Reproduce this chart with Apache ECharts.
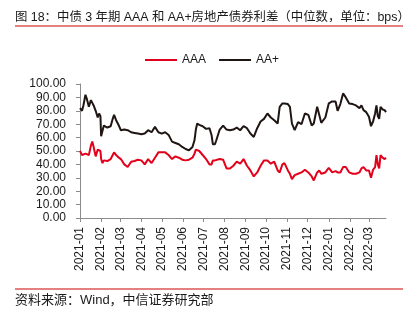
<!DOCTYPE html>
<html>
<head>
<meta charset="utf-8">
<script src="https://cdn.jsdelivr.net/npm/echarts@6/dist/echarts.min.js"></script>
<style>
html,body{margin:0;padding:0;background:#fff;}
#c{width:417px;height:324px;}
</style>
</head>
<body>
<div id="c"></div>
<script>
var titleText = '图 18：中债 3 年期 AAA 和 AA+房地产债券利差（中位数，单位：bps）';
var sourceText = '资料来源：Wind，中信证券研究部';
var seriesNames = ['AAA', 'AA+'];

var dates = [
'2021-01-01','2021-01-04','2021-01-06','2021-01-09','2021-01-11','2021-01-14','2021-01-17','2021-01-19','2021-01-21','2021-01-24',
'2021-01-27','2021-01-29','2021-01-31','2021-02-01','2021-02-03','2021-02-05','2021-02-10','2021-02-15','2021-02-18','2021-02-20',
'2021-02-23','2021-02-27','2021-03-02','2021-03-07','2021-03-12','2021-03-17','2021-03-22','2021-03-27','2021-04-01','2021-04-06',
'2021-04-11','2021-04-16','2021-04-21','2021-04-26','2021-05-01','2021-05-06','2021-05-11','2021-05-16','2021-05-21','2021-05-26',
'2021-05-31','2021-06-05','2021-06-10','2021-06-15','2021-06-18','2021-06-20','2021-06-22','2021-06-25','2021-06-30','2021-07-05',
'2021-07-10','2021-07-13','2021-07-15','2021-07-18','2021-07-20','2021-07-25','2021-07-30','2021-08-04','2021-08-09','2021-08-14',
'2021-08-19','2021-08-24','2021-08-29','2021-09-03','2021-09-08','2021-09-13','2021-09-18','2021-09-23','2021-09-28','2021-10-03',
'2021-10-08','2021-10-13','2021-10-18','2021-10-21','2021-10-25','2021-10-28','2021-11-02','2021-11-05','2021-11-08','2021-11-12',
'2021-11-17','2021-11-22','2021-11-27','2021-12-02','2021-12-07','2021-12-10','2021-12-15','2021-12-18','2021-12-21','2021-12-27',
'2022-01-01','2022-01-06','2022-01-11','2022-01-14','2022-01-18','2022-01-22','2022-01-26','2022-01-31','2022-02-05','2022-02-10',
'2022-02-15','2022-02-18','2022-02-21','2022-02-25','2022-03-01','2022-03-04','2022-03-07','2022-03-10','2022-03-12','2022-03-14',
'2022-03-16','2022-03-18','2022-03-21','2022-03-24','2022-03-26'
];

var aaa = [
50,47,46,48,49,47,54,57,53,46,
51,52,50,44,41,43,42.5,44,47,49,
47,45,44,40,38,42,42.5,43.5,43,40,
44,41,45,49,49,49,47,44,46,45,
43.5,43,43.5,45,48,51,52,50,47,44,
40,40,43,43,42.5,44,43.5,37,37,39,
42,40.5,44,39,35.5,31,34,39,43,43,
40.5,42,35.5,34,40,41,35.5,33,29,32,
33,34,36,34,31,28,34,35.5,33,34,
37.5,34,35,34,34,38,38,34,33,33,
34,37,38,35.5,35.5,30,36,38,47,40,
37,47,45,44,45
];

var aaPlus = [
82,80,84,92,89,83,88,87,84,80,
75,78,76,61,62,69,67.5,68.5,74,77,
73,69,65.5,66,65.5,64,63.5,63,62.5,63,
65.5,64,68,64,63,64,62,57,56,55,
53,51.5,50.5,53,58,66,70.5,69.5,68.5,66.5,
67,62,55,55,58,66,69,66,65.5,66,
67.5,65.5,68.5,67,63,60.5,67,72,74,78,
75,73,70.5,83,85.5,85.5,85,83,70.5,65.5,
71.5,70,78,77,69,70.5,83,77,71,75,
85.5,87,87,80,85,93,90,85.5,85,84,
82,84,80.5,79,75.5,68.5,72,78,84,76,
74,83,81,80.5,79
];

var yTicks = [0, 100, 10];

function pairs(vals) {
  return dates.map(function (d, i) { return [d, vals[i]]; });
}

var chart = echarts.init(document.getElementById('c'), null, {renderer: 'canvas'});
var font = 'Arial, "Liberation Sans", "Noto Sans CJK SC", sans-serif';
var DAY = 86400000;

chart.setOption({
  animation: false,
  textStyle: {fontFamily: font},
  graphic: [
    {type: 'text', left: 15, top: 11, style: {text: titleText, font: '12.4px ' + font, fill: '#1a1a1a'}},
    {type: 'rect', shape: {x: 15, y: 25, width: 388, height: 2}, style: {fill: '#E58080'}},
    {type: 'rect', shape: {x: 15, y: 288, width: 388, height: 2}, style: {fill: '#E58080'}},
    {type: 'text', left: 15, top: 294, style: {text: sourceText, font: '13px ' + font, fill: '#1a1a1a'}}
  ],
  legend: {
    top: 49,
    left: 140,
    itemWidth: 32,
    itemHeight: 12,
    itemGap: 13,
    textStyle: {fontSize: 12, color: '#1a1a1a', fontFamily: font},
    data: [
      {name: seriesNames[0], icon: 'path://M0,5 L32,5 L32,7 L0,7 Z'},
      {name: seriesNames[1], icon: 'path://M0,5 L32,5 L32,7 L0,7 Z'}
    ]
  },
  grid: {left: 80, right: 31, top: 84, bottom: 106, containLabel: false},
  xAxis: {
    type: 'time',
    min: '2021-01-01',
    max: '2022-03-26',
    minInterval: 28 * DAY,
    maxInterval: 31 * DAY,
    splitNumber: 15,
    axisLine: {lineStyle: {color: '#8c8c8c', width: 1}},
    axisTick: {show: true, length: 4, lineStyle: {color: '#8c8c8c'}},
    splitLine: {show: false},
    axisLabel: {
      rotate: 90,
      margin: 9,
      fontSize: 12,
      color: '#1a1a1a',
      fontFamily: font,
      hideOverlap: false,
      showMaxLabel: false,
      formatter: function (v) {
        var d = new Date(v);
        var m = d.getMonth() + 1;
        return d.getFullYear() + '-' + (m < 10 ? '0' + m : m);
      }
    }
  },
  yAxis: {
    type: 'value',
    min: yTicks[0],
    max: yTicks[1],
    interval: yTicks[2],
    axisLine: {show: true, lineStyle: {color: '#8c8c8c', width: 1}},
    axisTick: {show: true, length: 4, lineStyle: {color: '#8c8c8c'}},
    splitLine: {show: false},
    axisLabel: {
      margin: 14,
      fontSize: 12,
      color: '#1a1a1a',
      fontFamily: font,
      formatter: function (v) { return v.toFixed(2); }
    }
  },
  series: [
    {name: seriesNames[0], type: 'line', data: pairs(aaa), symbol: 'none', color: '#E3001B',
     lineStyle: {width: 2, color: '#E3001B'}, itemStyle: {color: '#E3001B'}},
    {name: seriesNames[1], type: 'line', data: pairs(aaPlus), symbol: 'none', color: '#1F1512',
     lineStyle: {width: 2, color: '#1F1512'}, itemStyle: {color: '#1F1512'}}
  ]
});
</script>
</body>
</html>
